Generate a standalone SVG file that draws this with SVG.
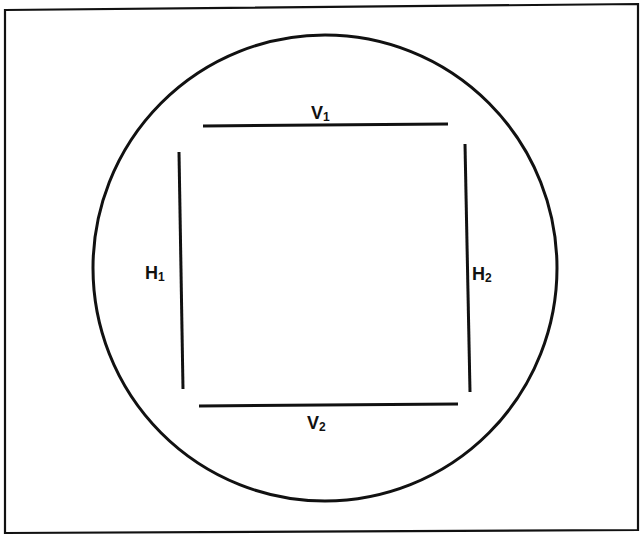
<svg xmlns="http://www.w3.org/2000/svg" width="641" height="537" viewBox="0 0 641 537">
<style>
.ln{stroke:#111;stroke-width:3;fill:none;stroke-linecap:butt}
.lb{font-family:"Liberation Sans",Arial,sans-serif;font-weight:bold;font-size:18px;fill:#111}
.sb{font-size:12px}
</style>
<rect width="641" height="537" fill="#fff"/>
<g id="frame"><path d="M5,10 L638,4 L638,530 L5,533 Z" fill="none" stroke="#111" stroke-width="2.2"/></g>
<g id="circle"><ellipse cx="325" cy="268" rx="232" ry="233" class="ln" stroke-width="3.4"/></g>
<g id="connectors">
<line id="V1" x1="203" y1="126" x2="448" y2="124" class="ln"/>
<line id="H1" x1="179" y1="152" x2="183" y2="389" class="ln"/>
<line id="H2" x1="465" y1="144" x2="470" y2="392" class="ln"/>
<line id="V2" x1="199" y1="406" x2="458" y2="404" class="ln"/>
</g>
<g id="labels">
<text x="311" y="119" class="lb">V<tspan class="sb" dy="2">1</tspan></text>
<text x="145" y="279" class="lb">H<tspan class="sb" dy="2">1</tspan></text>
<text x="472" y="280" class="lb">H<tspan class="sb" dy="2">2</tspan></text>
<text x="307" y="429" class="lb">V<tspan class="sb" dy="2">2</tspan></text>
</g>
</svg>
